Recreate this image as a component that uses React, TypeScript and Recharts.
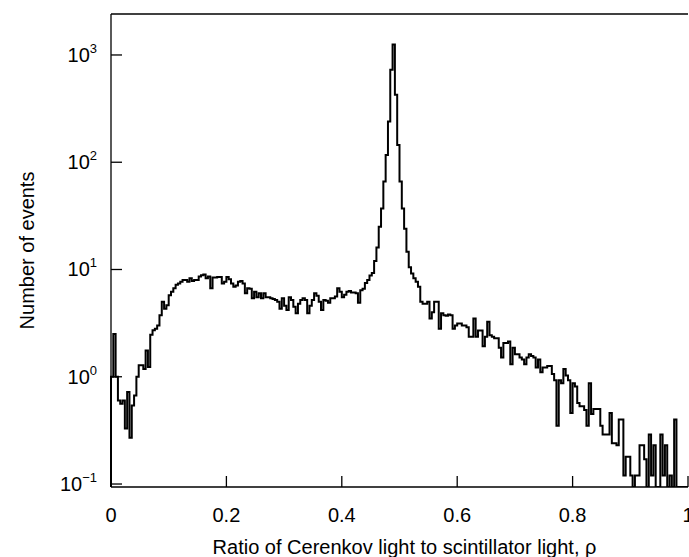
import React from "react";
import { LineChart, Line, XAxis, YAxis, ReferenceLine } from "recharts";

// --- Data (bin width 0.004) ---

const BIN_WIDTH = 0.004;

// events per bin, 250 bins from rho = 0 to 1 (0 = empty bin)
const COUNTS = [
  1.0, 2.5, 1.0, 0.6, 0.56, 0.6, 0.33, 0.72, 0.27, 0.54,
  0.67, 1.0, 1.28, 1.28, 1.18, 1.76, 1.23, 2.47, 2.71, 2.8,
  3.0, 3.74, 5.0, 4.3, 4.64, 5.76, 6.2, 6.67, 7.2, 7.4,
  7.7, 8.0, 8.0, 7.7, 8.3, 7.8, 8.0, 8.0, 8.6, 8.85,
  9.0, 8.3, 8.6, 6.67, 8.4, 8.4, 8.5, 8.5, 7.4, 7.7,
  8.5, 8.1, 7.4, 6.9, 7.1, 7.7, 7.8, 7.4, 6.0, 6.7,
  6.6, 5.4, 6.2, 5.5, 6.0, 5.4, 6.0, 5.5, 5.5, 5.4,
  5.3, 5.2, 5.0, 4.3, 5.4, 4.6, 4.2, 5.5, 5.2, 4.5,
  3.9, 4.8, 5.2, 5.4, 5.2, 3.9, 4.6, 5.2, 6.0, 5.7,
  5.0, 4.2, 5.2, 5.1, 4.9, 5.4, 5.4, 5.6, 6.7, 6.2,
  5.5, 5.8, 6.2, 6.3, 6.1, 6.1, 6.0, 4.9, 6.4, 6.6,
  7.5, 8.0, 8.8, 9.3, 12, 16, 25, 37, 66, 117,
  240, 730, 1250, 426, 145, 66, 37, 24, 14.6, 10.5,
  9.2, 8.3, 7.7, 6.9, 5.0, 4.8, 4.8, 5.0, 3.5, 4.0,
  5.0, 5.0, 2.8, 3.9, 3.74, 3.7, 3.8, 3.74, 2.8, 3.0,
  3.13, 3.13, 3.0, 3.0, 2.9, 2.36, 2.36, 3.5, 2.36, 2.7,
  2.7, 1.93, 2.36, 3.25, 2.44, 2.36, 2.29, 2.29, 1.86, 1.51,
  2.06, 2.06, 2.13, 1.31, 1.86, 1.62, 1.62, 1.51, 1.45, 1.31,
  1.51, 1.62, 1.56, 1.51, 1.22, 1.45, 1.1, 1.22, 1.22, 1.26,
  1.26, 1.06, 0.93, 0.35, 0.93, 0.87, 1.18, 1.03, 0.93, 0.46,
  0.87, 0.81, 0.57, 0.53, 0.53, 0.49, 0.35, 0.87, 0.45, 0.5,
  0.5, 0.5, 0.35, 0.29, 0.29, 0.29, 0.46, 0.24, 0.24, 0.23,
  0.4, 0.4, 0.12, 0.18, 0.18, 0.12, 0, 0.12, 0.12, 0.23,
  0.23, 0.17, 0, 0.29, 0.12, 0.23, 0, 0, 0.29, 0.12,
  0.23, 0, 0.12, 0, 0.4, 0, 0, 0, 0, 0,
];

const X_TICKS = [0, 0.2, 0.4, 0.6, 0.8, 1];
const Y_TICKS = [0.1, 1, 10, 100, 1000];
const Y_MIN = 0.0938;
const Y_MAX = 2410;

const FONT = '"Liberation Sans", Arial, Helvetica, sans-serif';

// step points at each bin's left edge, starting from the floor at rho = 0
const data = [
  { x: 0, y: Y_MIN },
  ...COUNTS.map((c, i) => ({ x: +(i * BIN_WIDTH).toFixed(3), y: c > 0 ? c : Y_MIN })),
  { x: 1, y: COUNTS[COUNTS.length - 1] > 0 ? COUNTS[COUNTS.length - 1] : Y_MIN },
];

// --- Ticks ---

function YTick(props: any) {
  const { x, y, payload } = props;
  const exp = Math.round(Math.log10(payload.value));
  const expText = exp < 0 ? "\u2212" + Math.abs(exp) : String(exp);
  return (
    <g>
      <line x1={x} x2={x + 11} y1={y} y2={y} stroke="#000" strokeWidth={1.3} />
      <text x={x - 14} y={y + 7} textAnchor="end" fontFamily={FONT} fill="#000">
        <tspan fontSize={20}>10</tspan>
        <tspan fontSize={13} dy={-9}>
          {expText}
        </tspan>
      </text>
    </g>
  );
}

function XTick(props: any) {
  const { x, y, payload } = props;
  return (
    <g>
      <line x1={x} x2={x} y1={y} y2={y - 11} stroke="#000" strokeWidth={1.3} />
      <text x={x} y={y + 35} textAnchor="middle" fontFamily={FONT} fontSize={20} fill="#000">
        {String(payload.value)}
      </text>
    </g>
  );
}

export default function App() {
  return (
    <div
      style={{
        position: "fixed",
        left: 0,
        top: 0,
        width: 689,
        height: 557,
        overflow: "hidden",
        background: "#fff",
      }}
    >
      <LineChart
        width={740}
        height={557}
        data={data}
        margin={{ top: 14, right: 52, bottom: 0, left: 0 }}
      >
        <XAxis
          dataKey="x"
          type="number"
          domain={[0, 1]}
          ticks={X_TICKS}
          interval={0}
          height={70}
          tickSize={0}
          tickMargin={0}
          tickLine={false}
          tick={<XTick />}
          axisLine={{ stroke: "#000", strokeWidth: 1.3 }}
          label={(p: any) => {
            const vb = p.viewBox;
            return (
              <text
                x={vb.x + vb.width / 2 + 5}
                y={vb.y + 67}
                textAnchor="middle"
                fontFamily={FONT}
                fontSize={20}
                fill="#000"
              >
                Ratio of Cerenkov light to scintillator light, ρ
              </text>
            );
          }}
        />
        <YAxis
          dataKey="y"
          scale="log"
          domain={[Y_MIN, Y_MAX]}
          allowDataOverflow
          ticks={Y_TICKS}
          interval={0}
          width={111}
          tickSize={0}
          tickMargin={0}
          tickLine={false}
          tick={<YTick />}
          axisLine={{ stroke: "#000", strokeWidth: 1.3 }}
          label={(p: any) => {
            const vb = p.viewBox;
            const cx = vb.x + 34;
            const cy = vb.y + vb.height / 2;
            return (
              <text
                x={cx}
                y={cy}
                transform={`rotate(-90 ${cx} ${cy})`}
                textAnchor="middle"
                fontFamily={FONT}
                fontSize={20}
                fill="#000"
              >
                Number of events
              </text>
            );
          }}
        />
        <ReferenceLine y={Y_MAX} stroke="#000" strokeWidth={1.3} ifOverflow="extendDomain" />
        <Line
          dataKey="y"
          type="stepAfter"
          stroke="#000"
          strokeWidth={2}
          dot={false}
          activeDot={false}
          isAnimationActive={false}
        />
      </LineChart>
    </div>
  );
}
